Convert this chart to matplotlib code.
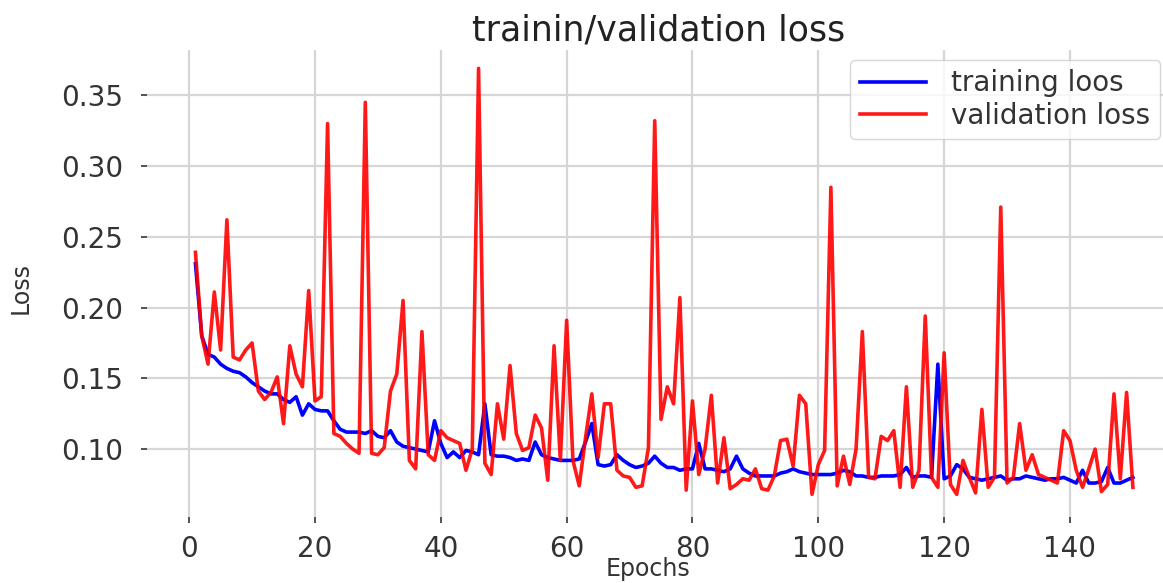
import matplotlib
matplotlib.use("Agg")
import matplotlib.pyplot as plt
import numpy as np

# loss per epoch
epochs = np.arange(1, 151)

training_loss = [
    0.231, 0.180, 0.167, 0.165, 0.160, 0.157, 0.155, 0.154, 0.151, 0.147,
    0.144, 0.141, 0.139, 0.139, 0.135, 0.133, 0.137, 0.124, 0.132, 0.128,
    0.127, 0.127, 0.120, 0.114, 0.112, 0.112, 0.112, 0.111, 0.113, 0.109,
    0.108, 0.113, 0.105, 0.102, 0.101, 0.100, 0.099, 0.098, 0.120, 0.104,
    0.094, 0.098, 0.094, 0.099, 0.098, 0.096, 0.132, 0.096, 0.095, 0.095,
    0.094, 0.092, 0.093, 0.092, 0.105, 0.096, 0.094, 0.093, 0.092, 0.092,
    0.092, 0.093, 0.105, 0.118, 0.089, 0.088, 0.089, 0.096, 0.092, 0.089,
    0.087, 0.088, 0.090, 0.095, 0.090, 0.087, 0.087, 0.085, 0.086, 0.086,
    0.104, 0.086, 0.086, 0.085, 0.084, 0.086, 0.095, 0.086, 0.083, 0.081,
    0.081, 0.081, 0.081, 0.083, 0.084, 0.086, 0.084, 0.083, 0.082, 0.082,
    0.082, 0.082, 0.083, 0.085, 0.084, 0.081, 0.081, 0.080, 0.080, 0.081,
    0.081, 0.081, 0.082, 0.087, 0.080, 0.081, 0.081, 0.080, 0.160, 0.079,
    0.081, 0.089, 0.086, 0.080, 0.079, 0.078, 0.079, 0.080, 0.081, 0.078,
    0.079, 0.079, 0.081, 0.080, 0.079, 0.078, 0.079, 0.079, 0.080, 0.078,
    0.076, 0.085, 0.076, 0.076, 0.077, 0.087, 0.076, 0.076, 0.078, 0.080,
]

validation_loss = [
    0.239, 0.180, 0.160, 0.211, 0.170, 0.262, 0.165, 0.163, 0.170, 0.175,
    0.141, 0.135, 0.140, 0.151, 0.118, 0.173, 0.153, 0.144, 0.212, 0.134,
    0.137, 0.330, 0.111, 0.109, 0.104, 0.100, 0.097, 0.345, 0.097, 0.096,
    0.101, 0.141, 0.153, 0.205, 0.092, 0.086, 0.183, 0.096, 0.092, 0.113,
    0.108, 0.106, 0.104, 0.085, 0.100, 0.369, 0.090, 0.082, 0.132, 0.107,
    0.159, 0.111, 0.099, 0.101, 0.124, 0.115, 0.078, 0.173, 0.092, 0.191,
    0.092, 0.074, 0.108, 0.139, 0.094, 0.132, 0.132, 0.085, 0.081, 0.080,
    0.073, 0.074, 0.101, 0.332, 0.121, 0.144, 0.132, 0.207, 0.071, 0.134,
    0.082, 0.100, 0.138, 0.076, 0.108, 0.072, 0.075, 0.079, 0.078, 0.086,
    0.072, 0.071, 0.081, 0.106, 0.107, 0.088, 0.138, 0.132, 0.068, 0.089,
    0.099, 0.285, 0.074, 0.095, 0.075, 0.100, 0.183, 0.080, 0.079, 0.109,
    0.106, 0.113, 0.073, 0.144, 0.073, 0.085, 0.194, 0.080, 0.073, 0.168,
    0.075, 0.068, 0.092, 0.080, 0.069, 0.128, 0.073, 0.080, 0.271, 0.076,
    0.080, 0.118, 0.085, 0.096, 0.082, 0.080, 0.078, 0.076, 0.113, 0.106,
    0.085, 0.073, 0.086, 0.100, 0.070, 0.075, 0.139, 0.079, 0.140, 0.073,
]

W, H = 1163, 583
fig = plt.figure(figsize=(W / 100, H / 100), dpi=100)
fig.patch.set_facecolor("white")

# axes box in pixels: left 147, right ~1170 (a bit past the edge), top 50, bottom 517
ax = fig.add_axes([147 / W, (H - 517) / H, (1170 - 147) / W, (517 - 50) / H])

ax.plot(epochs, training_loss, color="blue", lw=2.6, label="training loos")
ax.plot(epochs, validation_loss, color="red", lw=2.6, alpha=0.9, label="validation loss")

ax.set_xlim(-6.7, 155.9)
ax.set_ylim(0.052, 0.382)
ax.set_xticks([0, 20, 40, 60, 80, 100, 120, 140])
ax.set_yticks([0.10, 0.15, 0.20, 0.25, 0.30, 0.35])
ax.yaxis.set_major_formatter(plt.FormatStrFormatter("%.2f"))

for s in ax.spines.values():
    s.set_visible(False)
ax.grid(True, color="#d6d6d6", lw=1.6)
ax.set_axisbelow(True)
ax.tick_params(axis="both", length=4.3, width=1.3, color="#444444",
               labelsize=20, labelcolor="#333333")
ax.tick_params(axis="y", pad=13)
ax.tick_params(axis="x", pad=9)

ax.set_title("trainin/validation loss", fontsize=25, color="#222222", pad=7)
ax.set_xlabel("Epochs", fontsize=17, color="#333333")
ax.xaxis.set_label_coords(0.49, -0.138)
ax.xaxis.label.set_va("bottom")
ax.set_ylabel("Loss", fontsize=17, color="#333333")
ax.yaxis.set_label_coords(-0.112, 0.49)

leg = ax.legend(loc="upper right", fontsize=20, handlelength=2.4,
                labelspacing=0.15, handletextpad=0.9, borderpad=0.35,
                borderaxespad=0.35, frameon=True, fancybox=True)
leg.get_frame().set_edgecolor("#cccccc")
for t in leg.get_texts():
    t.set_color("#333333")

fig.savefig("out.png", dpi=100)
